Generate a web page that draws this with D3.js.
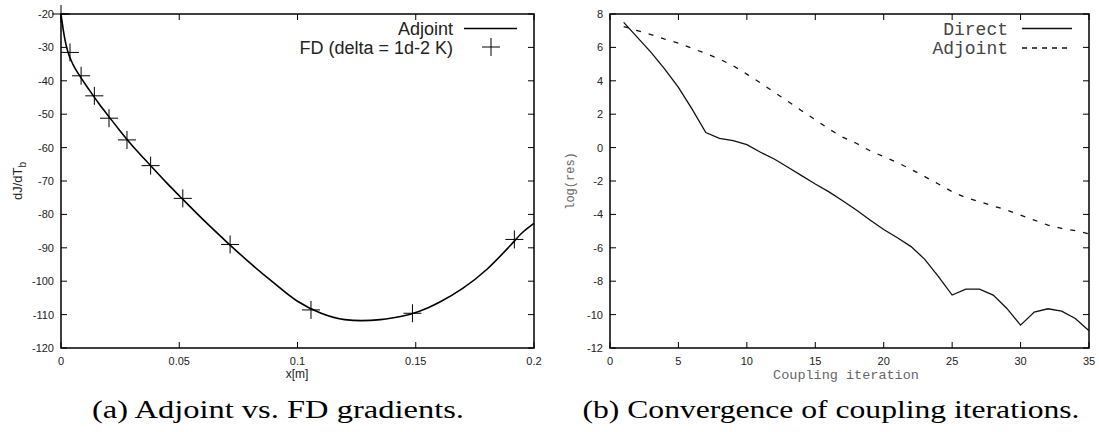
<!DOCTYPE html>
<html>
<head>
<meta charset="utf-8">
<script src="https://cdn.jsdelivr.net/npm/d3@7"></script>
<style>
  body { margin: 0; background: #fff; }
  svg text { fill: #222; }
</style>
</head>
<body>
<div id="my_dataviz"></div>
<script>
// ---- data ----
// (a) adjoint gradient curve and FD check points
const adjX = [0, 0.0005, 0.001, 0.002, 0.003, 0.005, 0.008, 0.012, 0.016, 0.02, 0.025, 0.03, 0.035, 0.04, 0.045, 0.05,
  0.06, 0.07, 0.08, 0.09, 0.1, 0.11, 0.12, 0.127, 0.135, 0.14, 0.148, 0.155, 0.16, 0.17, 0.18, 0.19, 0.195, 0.2];
const adjY = [-20, -22.5, -25, -28.8, -31.5, -35, -38.6, -42.8, -46.8, -50.5, -55, -59.3, -63.2, -67, -70.8, -74.4,
  -81.5, -88.2, -94.6, -100.5, -106, -109.6, -111.5, -111.8, -111.5, -111, -109.8, -108, -106.3, -102.1, -96.5, -89.3, -85.5, -82.7];
const fdX = [0, 0.0038, 0.0085, 0.0141, 0.0203, 0.0279, 0.0379, 0.0515, 0.0715, 0.1057, 0.1486, 0.1917];
const fdY = [-20, -31.5, -38.5, -44.5, -51.2, -57.7, -65.4, -75.2, -89, -108.6, -109.6, -87.5];
const aXTicks = [0, 0.05, 0.1, 0.15, 0.2];
const aXTickLabels = ["0", "0.05", "0.1", "0.15", "0.2"];
const aYTicks = [-20, -30, -40, -50, -60, -70, -80, -90, -100, -110, -120];

// (b) residual history
const iters = d3.range(1, 36);
const directRes = [7.5, 6.6, 5.7, 4.7, 3.6, 2.3, 0.9, 0.55, 0.42, 0.18, -0.28, -0.68, -1.18, -1.68, -2.18,
  -2.65, -3.18, -3.74, -4.34, -4.9, -5.4, -5.93, -6.69, -7.73, -8.83, -8.47, -8.47, -8.83, -9.63, -10.63,
  -9.85, -9.65, -9.79, -10.23, -10.97];
const adjointRes = [7.25, 7.0, 6.76, 6.5, 6.26, 5.94, 5.64, 5.3, 4.9, 4.4, 3.87, 3.31, 2.77, 2.21, 1.67,
  1.11, 0.63, 0.26, -0.19, -0.54, -0.9, -1.3, -1.74, -2.18, -2.64, -3.0, -3.24, -3.5, -3.74, -4.04,
  -4.34, -4.64, -4.84, -4.97, -5.17];
const bXTicks = [0, 5, 10, 15, 20, 25, 30, 35];
const bYTicks = [8, 6, 4, 2, 0, -2, -4, -6, -8, -10, -12];

const captions = ["(a) Adjoint vs. FD gradients.", "(b) Convergence of coupling iterations."];

// ---- setup ----
const W = 1099, H = 432;
const svg = d3.select("#my_dataviz")
    .append("svg")
    .attr("width", W)
    .attr("height", H)
    .style("display", "block");

const sans = "'Liberation Sans', Arial, sans-serif";
const mono = "'Liberation Mono', 'Courier New', monospace";
const serif = "'Liberation Serif', 'Times New Roman', serif";

// draws a framed gnuplot-style box with inward ticks on all four sides
function frame(g, x, y, xt, yt, xfmt) {
    const [x0, x1] = x.range();
    const [y0, y1] = y.range(); // bottom, top
    const tl = 6;
    xt.forEach(v => {
        g.append("line").attr("x1", x(v)).attr("x2", x(v)).attr("y1", y0).attr("y2", y0 - tl)
            .attr("stroke", "#000").attr("stroke-width", 1);
        g.append("line").attr("x1", x(v)).attr("x2", x(v)).attr("y1", y1).attr("y2", y1 + tl)
            .attr("stroke", "#000").attr("stroke-width", 1);
    });
    yt.forEach(v => {
        g.append("line").attr("x1", x0).attr("x2", x0 + tl).attr("y1", y(v)).attr("y2", y(v))
            .attr("stroke", "#000").attr("stroke-width", 1);
        g.append("line").attr("x1", x1).attr("x2", x1 - tl).attr("y1", y(v)).attr("y2", y(v))
            .attr("stroke", "#000").attr("stroke-width", 1);
    });
    g.append("rect").attr("x", x0).attr("y", y1).attr("width", x1 - x0).attr("height", y0 - y1)
        .attr("fill", "none").attr("stroke", "#000").attr("stroke-width", 1.5);
    // tick labels
    xt.forEach((v, i) => {
        g.append("text").attr("x", x(v)).attr("y", y0 + 17)
            .attr("text-anchor", "middle").style("font", "11px " + sans)
            .text(xfmt ? xfmt[i] : v);
    });
    yt.forEach(v => {
        g.append("text").attr("x", x0 - 7).attr("y", y(v) + 4)
            .attr("text-anchor", "end").style("font", "11px " + sans)
            .text(v);
    });
}

// ---- (a) ----
const xa = d3.scaleLinear().domain([0, 0.2]).range([61, 534]);
const ya = d3.scaleLinear().domain([-120, -20]).range([348, 14]);
const ga = svg.append("g");
frame(ga, xa, ya, aXTicks, aYTicks, aXTickLabels);

const adjData = adjX.map((d, i) => [d, adjY[i]]);
ga.append("path")
    .datum(adjData)
    .attr("fill", "none")
    .attr("stroke", "#000")
    .attr("stroke-width", 1.6)
    .attr("d", d3.line().x(d => xa(d[0])).y(d => ya(d[1])).curve(d3.curveMonotoneX));

const plus = "M-9,0H9M0,-9V9";
fdX.forEach((d, i) => {
    ga.append("path")
        .attr("d", plus)
        .attr("transform", `translate(${xa(d)},${ya(fdY[i])})`)
        .attr("stroke", "#000").attr("stroke-width", 1).attr("fill", "none");
});

// legend (a)
ga.append("text").attr("x", 453).attr("y", 35).attr("text-anchor", "end")
    .style("font", "18px " + sans).text("Adjoint");
ga.append("line").attr("x1", 464).attr("x2", 517).attr("y1", 28.5).attr("y2", 28.5)
    .attr("stroke", "#000").attr("stroke-width", 1.6);
ga.append("text").attr("x", 453).attr("y", 54).attr("text-anchor", "end")
    .style("font", "18px " + sans).text("FD (delta = 1d-2 K)");
ga.append("path").attr("d", plus).attr("transform", "translate(491,47)")
    .attr("stroke", "#000").attr("stroke-width", 1).attr("fill", "none");

// axis labels (a)
ga.append("text").attr("x", 297).attr("y", 378).attr("text-anchor", "middle")
    .style("font", "12px " + sans).text("x[m]");
const yla = ga.append("text").attr("transform", "translate(22,181) rotate(-90)")
    .attr("text-anchor", "middle").style("font", "13px " + sans);
yla.append("tspan").text("dJ/dT");
yla.append("tspan").attr("dy", 4).style("font-size", "10px").text("b");

// ---- (b) ----
const xb = d3.scaleLinear().domain([0, 35]).range([610, 1089]);
const yb = d3.scaleLinear().domain([-12, 8]).range([348, 14]);
const gb = svg.append("g");
frame(gb, xb, yb, bXTicks, bYTicks);

const resLine = d3.line().x((d, i) => xb(iters[i])).y(d => yb(d));
gb.append("path").datum(directRes)
    .attr("fill", "none").attr("stroke", "#111").attr("stroke-width", 1.3)
    .attr("d", resLine);
gb.append("path").datum(adjointRes)
    .attr("fill", "none").attr("stroke", "#111").attr("stroke-width", 1.3)
    .attr("stroke-dasharray", "5,8")
    .attr("d", resLine);

// legend (b)
gb.append("text").attr("x", 1008).attr("y", 35).attr("text-anchor", "end")
    .style("font", "18px " + mono).style("fill", "#444").text("Direct");
gb.append("line").attr("x1", 1022).attr("x2", 1072).attr("y1", 28.5).attr("y2", 28.5)
    .attr("stroke", "#111").attr("stroke-width", 1.3);
gb.append("text").attr("x", 1008).attr("y", 54).attr("text-anchor", "end")
    .style("font", "18px " + mono).style("fill", "#444").text("Adjoint");
gb.append("line").attr("x1", 1022).attr("x2", 1072).attr("y1", 48).attr("y2", 48)
    .attr("stroke", "#111").attr("stroke-width", 1.3).attr("stroke-dasharray", "5,5");

// axis labels (b)
gb.append("text").attr("x", 846).attr("y", 379).attr("text-anchor", "middle")
    .style("font", "13.5px " + mono).style("fill", "#666").text("Coupling iteration");
gb.append("text").attr("transform", "translate(574,181) rotate(-90)")
    .attr("text-anchor", "middle").style("font", "12px " + mono).style("fill", "#666")
    .text("log(res)");

// ---- captions ----
[[278, 372], [831, 497]].forEach((c, i) => {
    svg.append("text").attr("x", c[0]).attr("y", 418).attr("text-anchor", "middle")
        .attr("textLength", c[1]).attr("lengthAdjust", "spacingAndGlyphs")
        .style("font", "26px " + serif).style("fill", "#000")
        .text(captions[i]);
});
</script>
</body>
</html>
